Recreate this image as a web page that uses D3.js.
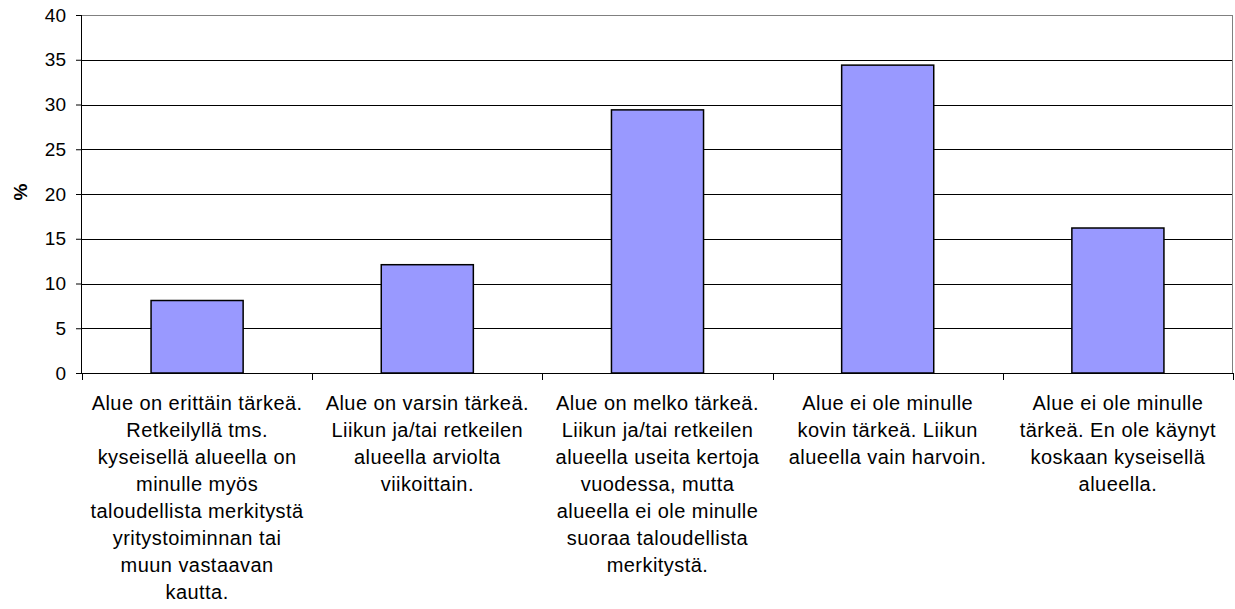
<!DOCTYPE html>
<html>
<head>
<meta charset="utf-8">
<script src="https://cdn.jsdelivr.net/npm/d3@7"></script>
<style>
  html, body { margin: 0; padding: 0; background: #fff; }
  svg text { font-family: Arial, "Liberation Sans", sans-serif; fill: #000; }
</style>
</head>
<body>
<div id="chart"></div>
<script>
// vastausluokat (rivitettynä kuten alkuperäisessä)
const categories = [
    ['Alue on erittäin tärkeä.', 'Retkeilyllä tms.', 'kyseisellä alueella on', 'minulle myös', 'taloudellista merkitystä', 'yritystoiminnan tai', 'muun vastaavan', 'kautta.'],
    ['Alue on varsin tärkeä.', 'Liikun ja/tai retkeilen', 'alueella arviolta', 'viikoittain.'],
    ['Alue on melko tärkeä.', 'Liikun ja/tai retkeilen', 'alueella useita kertoja', 'vuodessa, mutta', 'alueella ei ole minulle', 'suoraa taloudellista', 'merkitystä.'],
    ['Alue ei ole minulle', 'kovin tärkeä. Liikun', 'alueella vain harvoin.'],
    ['Alue ei ole minulle', 'tärkeä. En ole käynyt', 'koskaan kyseisellä', 'alueella.']
];
const values = [8.1, 12.1, 29.4, 34.4, 16.2];
const yTicks = [0, 5, 10, 15, 20, 25, 30, 35, 40];
const yLabel = '%';

const width = 1235, height = 609;
const margin = { top: 15, right: 2, bottom: 236, left: 82 };
const w = width - margin.left - margin.right;
const h = height - margin.top - margin.bottom;

const svg = d3.select('#chart').append('svg')
    .attr('width', width).attr('height', height);
const g = svg.append('g').attr('transform', `translate(${margin.left},${margin.top})`);

const x = d3.scaleBand().domain(d3.range(values.length)).range([0, w]).padding(0);
const y = d3.scaleLinear().domain([0, 40]).range([h, 0]);

// ruudukko
g.selectAll('.grid').data(yTicks.slice(1, -1)).enter().append('line')
    .attr('x1', 0).attr('x2', w)
    .attr('y1', d => Math.round(y(d)) + 0.5).attr('y2', d => Math.round(y(d)) + 0.5)
    .attr('stroke', '#000').attr('stroke-width', 1);

// kehys (ylä ja oikea)
g.append('line').attr('x1', 0).attr('x2', w).attr('y1', 0.5).attr('y2', 0.5).attr('stroke', '#808080');
g.append('line').attr('x1', w - 0.5).attr('x2', w - 0.5).attr('y1', 0).attr('y2', h).attr('stroke', '#808080');

// pylväät
const bw = x.bandwidth() * 0.4;
g.selectAll('rect.bar').data(values).enter().append('rect')
    .attr('class', 'bar')
    .attr('x', (d, i) => x(i) + (x.bandwidth() - bw) / 2)
    .attr('y', d => y(d))
    .attr('width', bw)
    .attr('height', d => h - y(d))
    .attr('fill', '#9999ff')
    .attr('stroke', '#000').attr('stroke-width', 1.5);

// y-akseli
const yAxis = g.append('g').call(d3.axisLeft(y).tickValues(yTicks).tickSize(6).tickPadding(10));
yAxis.select('.domain').attr('stroke', '#000').attr('d', `M-0.5,0V${h}`);
yAxis.selectAll('.tick line').attr('stroke', '#000');
yAxis.selectAll('text').style('font-size', '19px').attr('fill', '#000');

// x-akseli
const xAxis = g.append('g').attr('transform', `translate(0,${h})`);
xAxis.append('line').attr('x1', 0).attr('x2', w).attr('y1', 0.5).attr('y2', 0.5).attr('stroke', '#000');
xAxis.selectAll('.tk').data(d3.range(values.length + 1)).enter().append('line')
    .attr('x1', d => Math.round(d * x.step()) + 0.5).attr('x2', d => Math.round(d * x.step()) + 0.5)
    .attr('y1', 0).attr('y2', 7).attr('stroke', '#000');

const labels = xAxis.selectAll('.lbl').data(categories).enter().append('text')
    .attr('x', (d, i) => x(i) + x.bandwidth() / 2)
    .attr('y', 37)
    .attr('text-anchor', 'middle')
    .style('font-size', '20px')
    .style('letter-spacing', '0.45px');
labels.selectAll('tspan').data(d => d).enter().append('tspan')
    .attr('x', function () { return this.parentNode.getAttribute('x'); })
    .attr('dy', (d, i) => i === 0 ? 0 : 27)
    .text(d => d);

// y-akselin otsikko
svg.append('text')
    .attr('transform', `translate(27,${margin.top + 177}) rotate(-90)`)
    .attr('text-anchor', 'middle')
    .style('font-size', '19px').style('font-weight', 'bold')
    .text(yLabel);
</script>
</body>
</html>
